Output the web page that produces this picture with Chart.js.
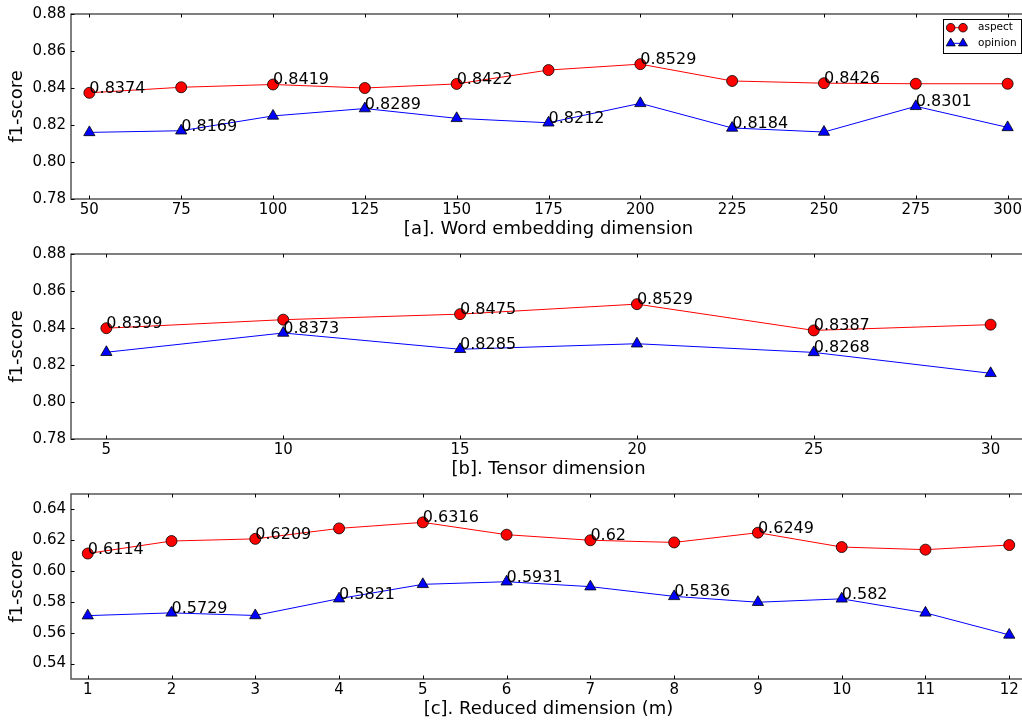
<!DOCTYPE html>
<html>
<head>
<meta charset="utf-8">
<script src="https://cdn.jsdelivr.net/npm/chart.js@4.4.1/dist/chart.umd.min.js"></script>
<style>
  html, body { margin:0; padding:0; background:#fff; }
  #wrap { position:relative; width:1022px; height:721px; overflow:hidden; background:#fff; }
  .panel { position:absolute; left:0; width:1034px; height:240px; }
</style>
</head>
<body>
<div id="wrap">
  <div class="panel" style="top:0px"><canvas id="ca" width="1034" height="240"></canvas></div>
  <div class="panel" style="top:240px"><canvas id="cb" width="1034" height="240"></canvas></div>
  <div class="panel" style="top:479.5px"><canvas id="cc" width="1034" height="240"></canvas></div>
</div>
<script>
// ---------- data ----------
// [a] Word embedding dimension
const dimsA = [50, 75, 100, 125, 150, 175, 200, 225, 250, 275, 300];
const aspectA  = [0.8374, 0.8404, 0.8419, 0.8400, 0.8422, 0.8497, 0.8529, 0.8438, 0.8426, 0.8423, 0.8423];
const opinionA = [0.8160, 0.8169, 0.8249, 0.8289, 0.8236, 0.8212, 0.8317, 0.8184, 0.8162, 0.8301, 0.8187];
const aspectLabelsA  = ['0.8374', null, '0.8419', null, '0.8422', null, '0.8529', null, '0.8426', null, null];
const opinionLabelsA = [null, '0.8169', null, '0.8289', null, '0.8212', null, '0.8184', null, '0.8301', null];
const xTicksA = [50, 75, 100, 125, 150, 175, 200, 225, 250, 275, 300];
const yTicksA = [0.78, 0.80, 0.82, 0.84, 0.86, 0.88];

// [b] Tensor dimension
const dimsB = [5, 10, 15, 20, 25, 30];
const aspectB  = [0.8399, 0.8445, 0.8475, 0.8529, 0.8387, 0.8418];
const opinionB = [0.8269, 0.8373, 0.8285, 0.8315, 0.8268, 0.8155];
const aspectLabelsB  = ['0.8399', null, '0.8475', '0.8529', '0.8387', null];
const opinionLabelsB = [null, '0.8373', '0.8285', null, '0.8268', null];
const xTicksB = [5, 10, 15, 20, 25, 30];
const yTicksB = [0.78, 0.80, 0.82, 0.84, 0.86, 0.88];

// [c] Reduced dimension (m)
const dimsC = [1, 2, 3, 4, 5, 6, 7, 8, 9, 10, 11, 12];
const aspectC  = [0.6114, 0.6195, 0.6209, 0.6277, 0.6316, 0.6236, 0.6200, 0.6186, 0.6249, 0.6156, 0.6139, 0.6169];
const opinionC = [0.5711, 0.5729, 0.5712, 0.5821, 0.5914, 0.5931, 0.5899, 0.5836, 0.5798, 0.5820, 0.5729, 0.5586];
const aspectLabelsC  = ['0.6114', null, '0.6209', null, '0.6316', null, '0.62', null, '0.6249', null, null, null];
const opinionLabelsC = [null, '0.5729', null, '0.5821', null, '0.5931', null, '0.5836', null, '0.582', null, null];
const xTicksC = [1, 2, 3, 4, 5, 6, 7, 8, 9, 10, 11, 12];
const yTicksC = [0.54, 0.56, 0.58, 0.60, 0.62, 0.64];

const seriesNames = ['aspect', 'opinion'];

// ---------- styling ----------
const FONT = "'DejaVu Sans', sans-serif";
const SPINE = '#555';

function drawMarker(ctx, style, x, y, r, fill) {
  ctx.save();
  ctx.fillStyle = fill;
  ctx.strokeStyle = '#000';
  ctx.lineWidth = 0.8;
  ctx.beginPath();
  if (style === 'circle') {
    ctx.arc(x, y, r, 0, Math.PI * 2);
  } else {
    const h = r * 1.5, w = r * 1.732;
    ctx.moveTo(x, y - r);
    ctx.lineTo(x + w / 2, y - r + h);
    ctx.lineTo(x - w / 2, y - r + h);
    ctx.closePath();
  }
  ctx.fill();
  ctx.stroke();
  ctx.restore();
}

const framePlugin = {
  id: 'mplFrame',
  afterDatasetsDraw(chart, args, opts) {
    const ctx = chart.ctx;
    const xs = chart.scales.x, ys = chart.scales.y;
    ctx.save();
    ctx.font = '16px ' + FONT;
    ctx.fillStyle = '#000';
    ctx.textAlign = 'left';
    ctx.textBaseline = 'alphabetic';
    chart.data.datasets.forEach((ds, di) => {
      const labels = opts.labels[di];
      ds.data.forEach((p, i) => {
        if (labels[i]) {
          ctx.fillText(labels[i], xs.getPixelForValue(p.x), ys.getPixelForValue(p.y));
        }
      });
    });
    ctx.restore();
  },
  afterDraw(chart, args, opts) {
    const ctx = chart.ctx;
    const a = chart.chartArea;
    const xs = chart.scales.x, ys = chart.scales.y;
    ctx.save();
    ctx.strokeStyle = SPINE;
    ctx.lineWidth = 1.5;
    ctx.strokeRect(a.left, a.top, a.right - a.left, a.bottom - a.top);
    ctx.strokeStyle = '#000';
    ctx.lineWidth = 1;
    const tl = 3.5;
    ctx.beginPath();
    xs.ticks.forEach(t => {
      const px = Math.round(xs.getPixelForValue(t.value)) + 0.5;
      ctx.moveTo(px, a.bottom); ctx.lineTo(px, a.bottom - tl);
      ctx.moveTo(px, a.top); ctx.lineTo(px, a.top + tl);
    });
    ys.ticks.forEach(t => {
      const py = Math.round(ys.getPixelForValue(t.value)) + 0.5;
      ctx.moveTo(a.left, py); ctx.lineTo(a.left + tl, py);
      ctx.moveTo(a.right, py); ctx.lineTo(a.right - tl, py);
    });
    ctx.stroke();
    ctx.restore();

    if (opts.legend) {
      const bw = 78, bh = 34;
      const bx = a.right - 5 - bw, by = a.top + 5;
      ctx.save();
      ctx.fillStyle = '#fff';
      ctx.fillRect(bx, by, bw, bh);
      ctx.strokeStyle = '#000';
      ctx.lineWidth = 1;
      ctx.strokeRect(bx + 0.5, by + 0.5, bw, bh);
      const rows = [
        { y: by + 8.7, color: '#ff0000', style: 'circle', r: 4.3 },
        { y: by + 24.3, color: '#0000ff', style: 'triangle', r: 5.2 }
      ];
      rows.forEach((row, i) => {
        const x1 = bx + 7.7, x2 = bx + 20;
        ctx.strokeStyle = row.color;
        ctx.lineWidth = 1;
        ctx.beginPath(); ctx.moveTo(x1, row.y); ctx.lineTo(x2, row.y); ctx.stroke();
        drawMarker(ctx, row.style, x1, row.y, row.r, row.color);
        drawMarker(ctx, row.style, x2, row.y, row.r, row.color);
        ctx.fillStyle = '#000';
        ctx.font = '10.5px ' + FONT;
        ctx.textAlign = 'left';
        ctx.textBaseline = 'middle';
        ctx.fillText(seriesNames[i], bx + 35, row.y);
      });
      ctx.restore();
    }
  }
};

function makeChart(id, xs, aspect, opinion, aLabels, oLabels, xTicks, yTicks, xMin, xMax, yMin, yMax, xTitle, legend) {
  const toPts = (arr) => arr.map((v, i) => ({ x: xs[i], y: v }));
  return new Chart(document.getElementById(id), {
    type: 'line',
    data: {
      datasets: [
        {
          label: seriesNames[0], data: toPts(aspect),
          borderColor: '#ff0000', backgroundColor: '#ff0000', borderWidth: 1,
          pointStyle: 'circle', pointRadius: 5.5, pointBorderColor: '#000', pointBorderWidth: 0.8,
          pointBackgroundColor: '#ff0000', tension: 0
        },
        {
          label: seriesNames[1], data: toPts(opinion),
          borderColor: '#0000ff', backgroundColor: '#0000ff', borderWidth: 1,
          pointStyle: 'triangle', pointRadius: 6.5, pointBorderColor: '#000', pointBorderWidth: 0.8,
          pointBackgroundColor: '#0000ff', tension: 0
        }
      ]
    },
    options: {
      responsive: false,
      animation: false,
      devicePixelRatio: 1,
      layout: { padding: { top: 14, right: 8, bottom: 0, left: 0 } },
      plugins: {
        legend: { display: false },
        tooltip: { enabled: false },
        mplFrame: { labels: [aLabels, oLabels], legend: legend }
      },
      scales: {
        x: {
          type: 'linear', min: xMin, max: xMax,
          afterBuildTicks: (s) => { s.ticks = xTicks.map(v => ({ value: v })); },
          afterFit: (s) => { s.height = 41; s.paddingLeft = 0; s.paddingRight = 0; },
          grid: { display: false, drawTicks: false, tickLength: 0 },
          border: { display: false },
          ticks: { color: '#000', font: { family: FONT, size: 15 }, padding: 2, maxRotation: 0, autoSkip: false,
                   callback: (v) => String(v) },
          title: { display: true, text: xTitle, color: '#000', font: { family: FONT, size: 18 }, padding: { top: 0, bottom: 0 } }
        },
        y: {
          type: 'linear', min: yMin, max: yMax,
          afterBuildTicks: (s) => { s.ticks = yTicks.map(v => ({ value: v })); },
          afterFit: (s) => { s.width = 71; s.paddingTop = 0; s.paddingBottom = 0; },
          grid: { display: false, drawTicks: false, tickLength: 0 },
          border: { display: false },
          ticks: { color: '#000', font: { family: FONT, size: 15 }, padding: 5, autoSkip: false,
                   callback: (v) => Number(v).toFixed(2) },
          title: { display: true, text: 'f1-score', color: '#000', font: { family: FONT, size: 18 }, padding: { top: 7, bottom: 0 } }
        }
      }
    },
    plugins: [framePlugin]
  });
}

makeChart('ca', dimsA, aspectA, opinionA, aspectLabelsA, opinionLabelsA, xTicksA, yTicksA,
          45, 305, 0.78, 0.88, '[a]. Word embedding dimension', true);
makeChart('cb', dimsB, aspectB, opinionB, aspectLabelsB, opinionLabelsB, xTicksB, yTicksB,
          4, 31, 0.78, 0.88, '[b]. Tensor dimension', false);
makeChart('cc', dimsC, aspectC, opinionC, aspectLabelsC, opinionLabelsC, xTicksC, yTicksC,
          0.8, 12.2, 0.53, 0.65, '[c]. Reduced dimension (m)', false);
</script>
</body>
</html>
